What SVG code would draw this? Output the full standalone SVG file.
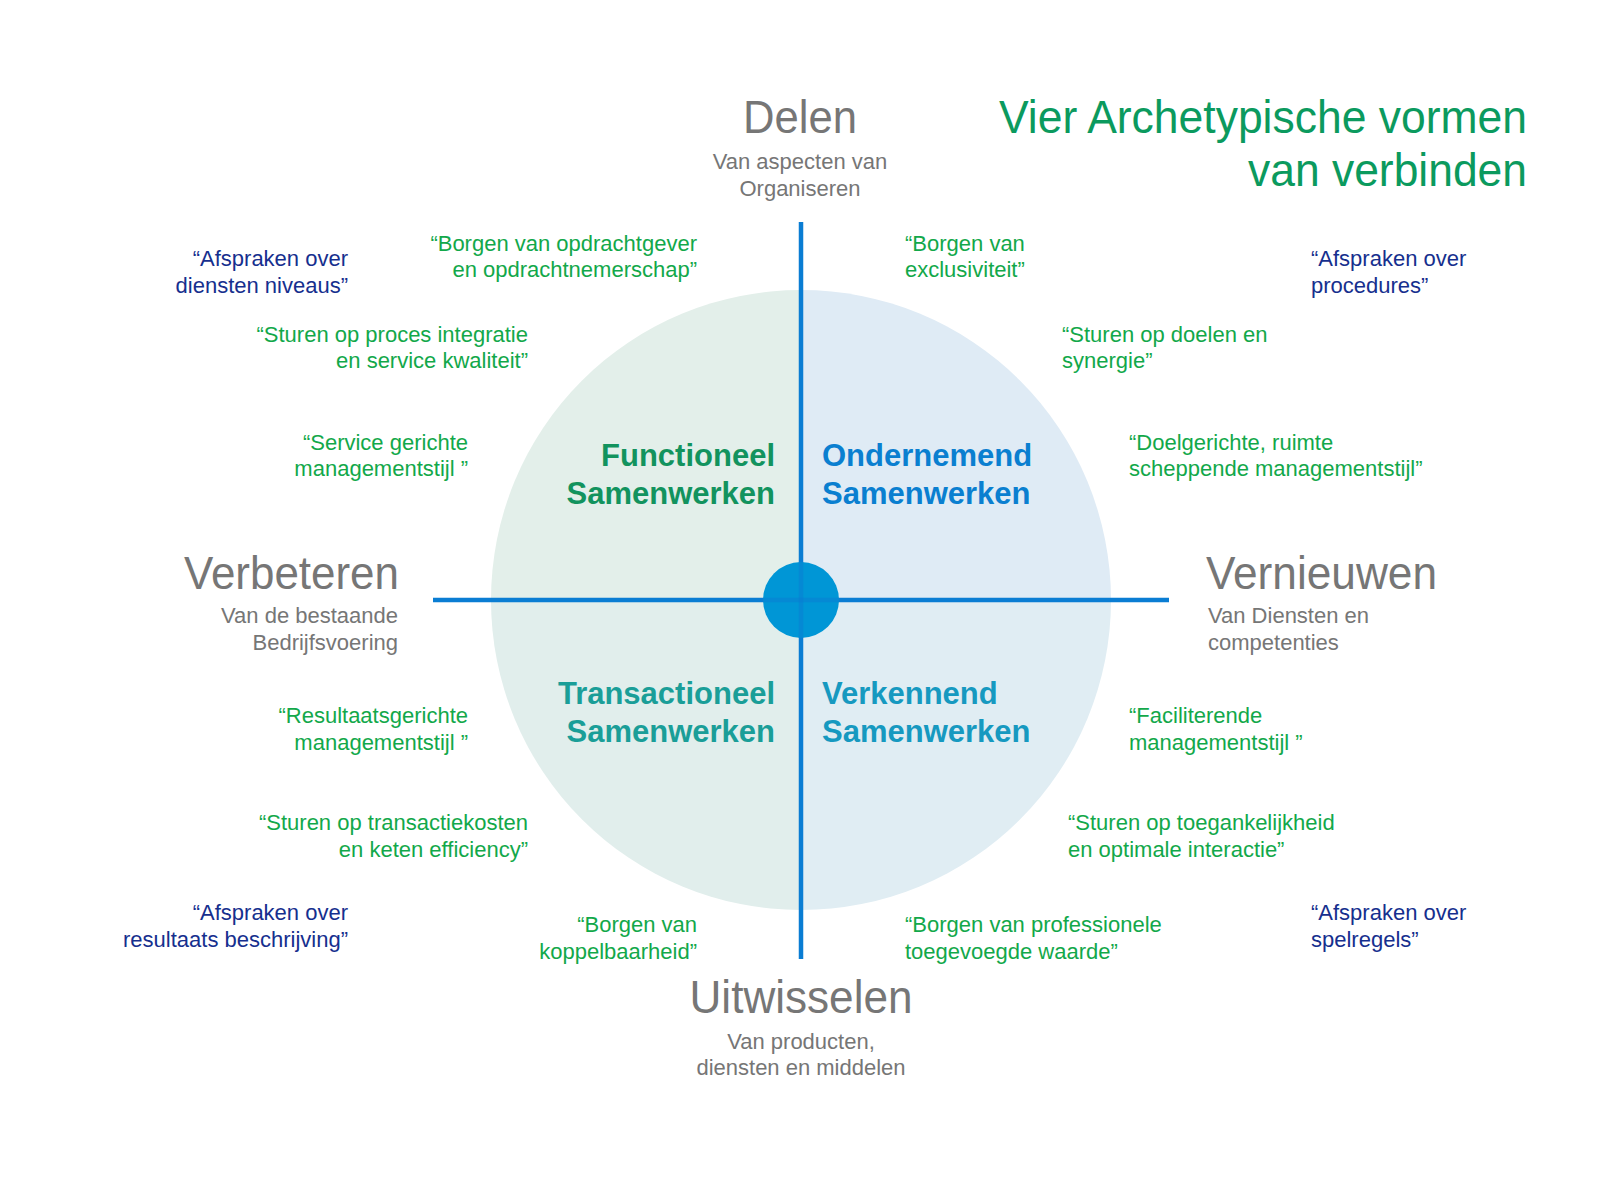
<svg xmlns="http://www.w3.org/2000/svg" width="1600" height="1203" viewBox="0 0 1600 1203">
<style>
text{font-family:"Liberation Sans",Arial,sans-serif}
.big{font-size:46px;fill:#767676}
.sub{font-size:22px;fill:#767676}
.q{font-size:22px;fill:#12a84a}
.n{font-size:22px;fill:#162f8e}
.qd{font-size:31px;font-weight:bold}
.title{font-size:46px;fill:#0b9a5e}
.axis{stroke:#0a7dd3;stroke-width:4.5;fill:none}
</style>
<rect width="1600" height="1203" fill="#ffffff"/>
<g id="circle">
<path d="M801,600 L801,290 A310,310 0 0 0 491,600 Z" fill="#e3efea"/>
<path d="M801,600 L801,290 A310,310 0 0 1 1111,600 Z" fill="#dfebf5"/>
<path d="M801,600 L491,600 A310,310 0 0 0 801,910 Z" fill="#e1eeec"/>
<path d="M801,600 L1111,600 A310,310 0 0 1 801,910 Z" fill="#e0edf3"/>
</g>
<g id="connectors">
<line class="axis" x1="801" y1="222" x2="801" y2="959"/>
<line class="axis" x1="433" y1="600" x2="1169" y2="600"/>
<circle cx="801" cy="600" r="38" fill="#0096d6"/>
<line x1="801" y1="562" x2="801" y2="638" stroke="#0a7dd3" stroke-width="4.5" opacity="0.5"/>
<line x1="763" y1="600" x2="839" y2="600" stroke="#0a7dd3" stroke-width="4.5" opacity="0.5"/>
</g>
<g id="title">
<text class="title" x="1527" y="133" text-anchor="end" textLength="528" lengthAdjust="spacingAndGlyphs">Vier Archetypische vormen</text>
<text class="title" x="1527" y="186" text-anchor="end" textLength="279" lengthAdjust="spacingAndGlyphs">van verbinden</text>
</g>
<g id="delen">
<text class="big" x="800" y="133" text-anchor="middle" textLength="114" lengthAdjust="spacingAndGlyphs">Delen</text>
<text class="sub" x="800" y="169" text-anchor="middle">Van aspecten van</text>
<text class="sub" x="800" y="196" text-anchor="middle">Organiseren</text>
</g>
<g id="verbeteren">
<text class="big" x="399" y="589" text-anchor="end" textLength="215" lengthAdjust="spacingAndGlyphs">Verbeteren</text>
<text class="sub" x="398" y="623" text-anchor="end">Van de bestaande</text>
<text class="sub" x="398" y="650" text-anchor="end">Bedrijfsvoering</text>
</g>
<g id="vernieuwen">
<text class="big" x="1206" y="589" textLength="231" lengthAdjust="spacingAndGlyphs">Vernieuwen</text>
<text class="sub" x="1208" y="623">Van Diensten en</text>
<text class="sub" x="1208" y="650">competenties</text>
</g>
<g id="uitwisselen">
<text class="big" x="801" y="1013" text-anchor="middle" textLength="223" lengthAdjust="spacingAndGlyphs">Uitwisselen</text>
<text class="sub" x="801" y="1049" text-anchor="middle">Van producten,</text>
<text class="sub" x="801" y="1075" text-anchor="middle">diensten en middelen</text>
</g>
<g id="functioneel">
<text class="qd" x="775" y="466" text-anchor="end" fill="#12935e">Functioneel</text>
<text class="qd" x="775" y="504" text-anchor="end" fill="#12935e">Samenwerken</text>
</g>
<g id="ondernemend">
<text class="qd" x="822" y="466" fill="#0a7fd0">Ondernemend</text>
<text class="qd" x="822" y="504" fill="#0a7fd0">Samenwerken</text>
</g>
<g id="transactioneel">
<text class="qd" x="775" y="704" text-anchor="end" fill="#1a9e98">Transactioneel</text>
<text class="qd" x="775" y="742" text-anchor="end" fill="#1a9e98">Samenwerken</text>
</g>
<g id="verkennend">
<text class="qd" x="822" y="704" fill="#1699c0">Verkennend</text>
<text class="qd" x="822" y="742" fill="#1699c0">Samenwerken</text>
</g>
<g id="tl-afspraken">
<text class="n" x="348" y="266" text-anchor="end">“Afspraken over</text>
<text class="n" x="348" y="293" text-anchor="end">diensten niveaus”</text>
</g>
<g id="tl-borgen">
<text class="q" x="697" y="251" text-anchor="end">“Borgen van opdrachtgever</text>
<text class="q" x="697" y="277" text-anchor="end">en opdrachtnemerschap”</text>
</g>
<g id="tl-sturen">
<text class="q" x="528" y="342" text-anchor="end">“Sturen op proces integratie</text>
<text class="q" x="528" y="368" text-anchor="end">en service kwaliteit”</text>
</g>
<g id="tl-stijl">
<text class="q" x="468" y="450" text-anchor="end">“Service gerichte</text>
<text class="q" x="468" y="476" text-anchor="end">managementstijl ”</text>
</g>
<g id="tr-borgen">
<text class="q" x="905" y="251">“Borgen van</text>
<text class="q" x="905" y="277">exclusiviteit”</text>
</g>
<g id="tr-afspraken">
<text class="n" x="1311" y="266">“Afspraken over</text>
<text class="n" x="1311" y="293">procedures”</text>
</g>
<g id="tr-sturen">
<text class="q" x="1062" y="342">“Sturen op doelen en</text>
<text class="q" x="1062" y="368">synergie”</text>
</g>
<g id="tr-stijl">
<text class="q" x="1129" y="450">“Doelgerichte, ruimte</text>
<text class="q" x="1129" y="476">scheppende managementstijl”</text>
</g>
<g id="bl-stijl">
<text class="q" x="468" y="723" text-anchor="end">“Resultaatsgerichte</text>
<text class="q" x="468" y="750" text-anchor="end">managementstijl ”</text>
</g>
<g id="bl-sturen">
<text class="q" x="528" y="830" text-anchor="end">“Sturen op transactiekosten</text>
<text class="q" x="528" y="857" text-anchor="end">en keten efficiency”</text>
</g>
<g id="bl-afspraken">
<text class="n" x="348" y="920" text-anchor="end">“Afspraken over</text>
<text class="n" x="348" y="947" text-anchor="end">resultaats beschrijving”</text>
</g>
<g id="bl-borgen">
<text class="q" x="697" y="932" text-anchor="end">“Borgen van</text>
<text class="q" x="697" y="959" text-anchor="end">koppelbaarheid”</text>
</g>
<g id="br-stijl">
<text class="q" x="1129" y="723">“Faciliterende</text>
<text class="q" x="1129" y="750">managementstijl ”</text>
</g>
<g id="br-sturen">
<text class="q" x="1068" y="830">“Sturen op toegankelijkheid</text>
<text class="q" x="1068" y="857">en optimale interactie”</text>
</g>
<g id="br-borgen">
<text class="q" x="905" y="932">“Borgen van professionele</text>
<text class="q" x="905" y="959">toegevoegde waarde”</text>
</g>
<g id="br-afspraken">
<text class="n" x="1311" y="920">“Afspraken over</text>
<text class="n" x="1311" y="947">spelregels”</text>
</g>
</svg>
